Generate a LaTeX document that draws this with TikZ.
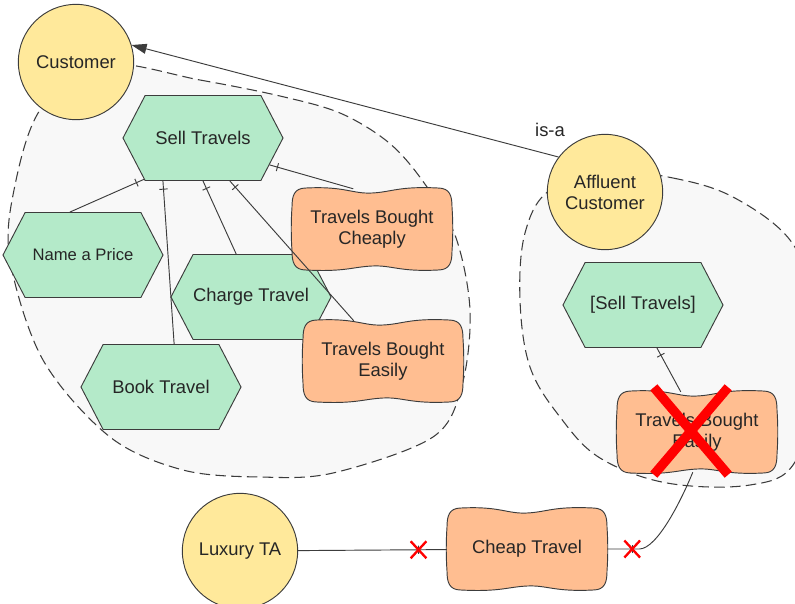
\documentclass[tikz,border=0pt]{standalone}
\usepackage{fontspec}
\setmainfont{Liberation Sans}
\usetikzlibrary{arrows.meta, shapes.symbols, shapes.misc, decorations.markings}
\definecolor{goalgreen}{RGB}{180,234,201}
\definecolor{actoryellow}{RGB}{255,233,155}
\definecolor{softorange}{RGB}{255,190,145}
\definecolor{bounds}{RGB}{248,248,248}
\definecolor{edge}{RGB}{60,60,60}
\definecolor{veto}{RGB}{255,0,0}

\begin{document}
\begin{tikzpicture}[
  x=0.03cm, y=-0.03cm,
  lbl/.style={font=\fontsize{15.7}{18}\selectfont, text=black!85},
  actor/.style={lbl, circle, draw=edge, line width=0.8pt, fill=actoryellow,
    minimum size=3.46cm, inner sep=0pt, align=center},
  task/.style={lbl, signal, signal to=east and west, signal pointer angle=125,
    draw=edge, line width=0.8pt, fill=goalgreen,
    minimum width=4.8cm, minimum height=2.55cm, inner sep=0pt},
  softtext/.style={lbl, align=center, minimum width=4.8cm, minimum height=2.4cm, inner sep=0pt},
  boundary/.style={draw=edge, line width=0.9pt, dash pattern=on 9pt off 4.5pt, fill=bounds},
  link/.style={draw=edge, line width=0.8pt},
  tickat/.style={postaction={decorate}, decoration={markings,
    mark=at position #1 with {\draw[edge, line width=0.8pt] (0,-3.5pt) -- (0,3.5pt);}}},
  ticked/.style={link, tickat=7pt},
  isa/.style={link, -{Triangle[length=0.45cm, width=0.3cm]}},
  redx/.style={cross out, draw=veto, line width=2pt, minimum width=0.4cm,
    minimum height=0.44cm, inner sep=0pt},
  bigx/.style={cross out, draw=veto, line width=8pt, minimum width=1.95cm,
    minimum height=2.34cm, inner sep=0pt},
  softgoal/.pic={
    \path[draw=edge, line width=0.8pt, fill=softorange]
      (-66,-41) .. controls (-27,-43) and (-20,-35) .. (0,-36)
      .. controls (20,-37) and (27,-43) .. (66,-41)
      .. controls (78,-41) and (80,-33) .. (80,-22)
      .. controls (81,-8) and (81,8) .. (80,22)
      .. controls (80,33) and (78,41) .. (66,41)
      .. controls (27,43) and (20,36) .. (0,37)
      .. controls (-20,38) and (-27,43) .. (-66,41)
      .. controls (-78,41) and (-80,33) .. (-80,22)
      .. controls (-81,8) and (-81,-8) .. (-80,-22)
      .. controls (-80,-33) and (-78,-41) .. (-66,-41) -- cycle;
  }
]
  \useasboundingbox (0,0) rectangle (795,603);
  \clip (0,0) rectangle (795,603);
  \fill[white] (0,0) rectangle (795,603);

  % boundaries
  \path[boundary] plot[smooth cycle, tension=0.55] coordinates {
    (100,64) (200,80) (280,96) (340,113) (388,142) (422,180) (455,235)
    (470,310) (462,385) (433,437) (333,473) (260,477) (183,470) (110,437)
    (43,360) (10,260) (14,190) (40,110)};
  \path[boundary] plot[smooth cycle, tension=0.6] coordinates {
    (610,172) (673,178) (733,197) (790,240) (812,300) (815,380) (795,462)
    (750,485) (667,483) (600,458) (560,417) (530,367) (520,300) (525,233)
    (550,190)};

  % actors
  \node[actor] (cust) at (76,62) {Customer};
  \node[actor] (aff) at (605,192) {Affluent\\Customer};
  \node[actor] (lux) at (240,551) {Luxury TA};

  % tasks
  \node[task] (sell) at (203,138) {Sell Travels};
  \node[task, font=\fontsize{14.2}{17}\selectfont] (nap) at (83,255) {Name a Price};
  \node[task] (charge) at (251,297) {Charge Travel};
  \node[task] (book) at (161,387) {Book Travel};
  \node[task] (sell2) at (643,305) {[Sell Travels]};

  % softgoals
  \pic at (372,229) {softgoal};
  \node[softtext] (tbc) at (372,229) {Travels Bought\\Cheaply};
  \pic at (383,361) {softgoal};
  \node[softtext] (tbe) at (383,361) {Travels Bought\\Easily};
  \pic at (697,432) {softgoal};
  \node[softtext] (tbe2) at (697,432) {Travels Bought\\Easily};
  \pic at (527,549) {softgoal};
  \node[softtext] (cheap) at (527,549) {Cheap Travel};

  % links
  \draw[ticked] (sell.215) -- (nap.107);
  \draw[ticked] (sell.227) -- (book.73);
  \draw[ticked] (sell.270) -- (charge.109);
  \draw[ticked] (sell.-58) -- (tbe.126);
  \draw[ticked] (sell.-22) -- (tbc.115);
  \draw[ticked] (sell2.-72) -- (tbe2.112);
  \draw[isa] (aff.143) -- node[lbl, pos=0.02, above=12pt] (isalabel) {is-a} (cust.17);

  \draw[link, tickat=0.81] (lux) -- node[redx, pos=0.81] (x1) {} (cheap);
  \draw[link, tickat=0.75cm] (cheap.east) -- node[redx, pos=0.78] (x2) {} ++(32,0)
    .. controls +(18,0) and +(-11,27) .. (tbe2.-96);

  \node[bigx] (vetox) at (691,431) {};
\end{tikzpicture}
\end{document}
